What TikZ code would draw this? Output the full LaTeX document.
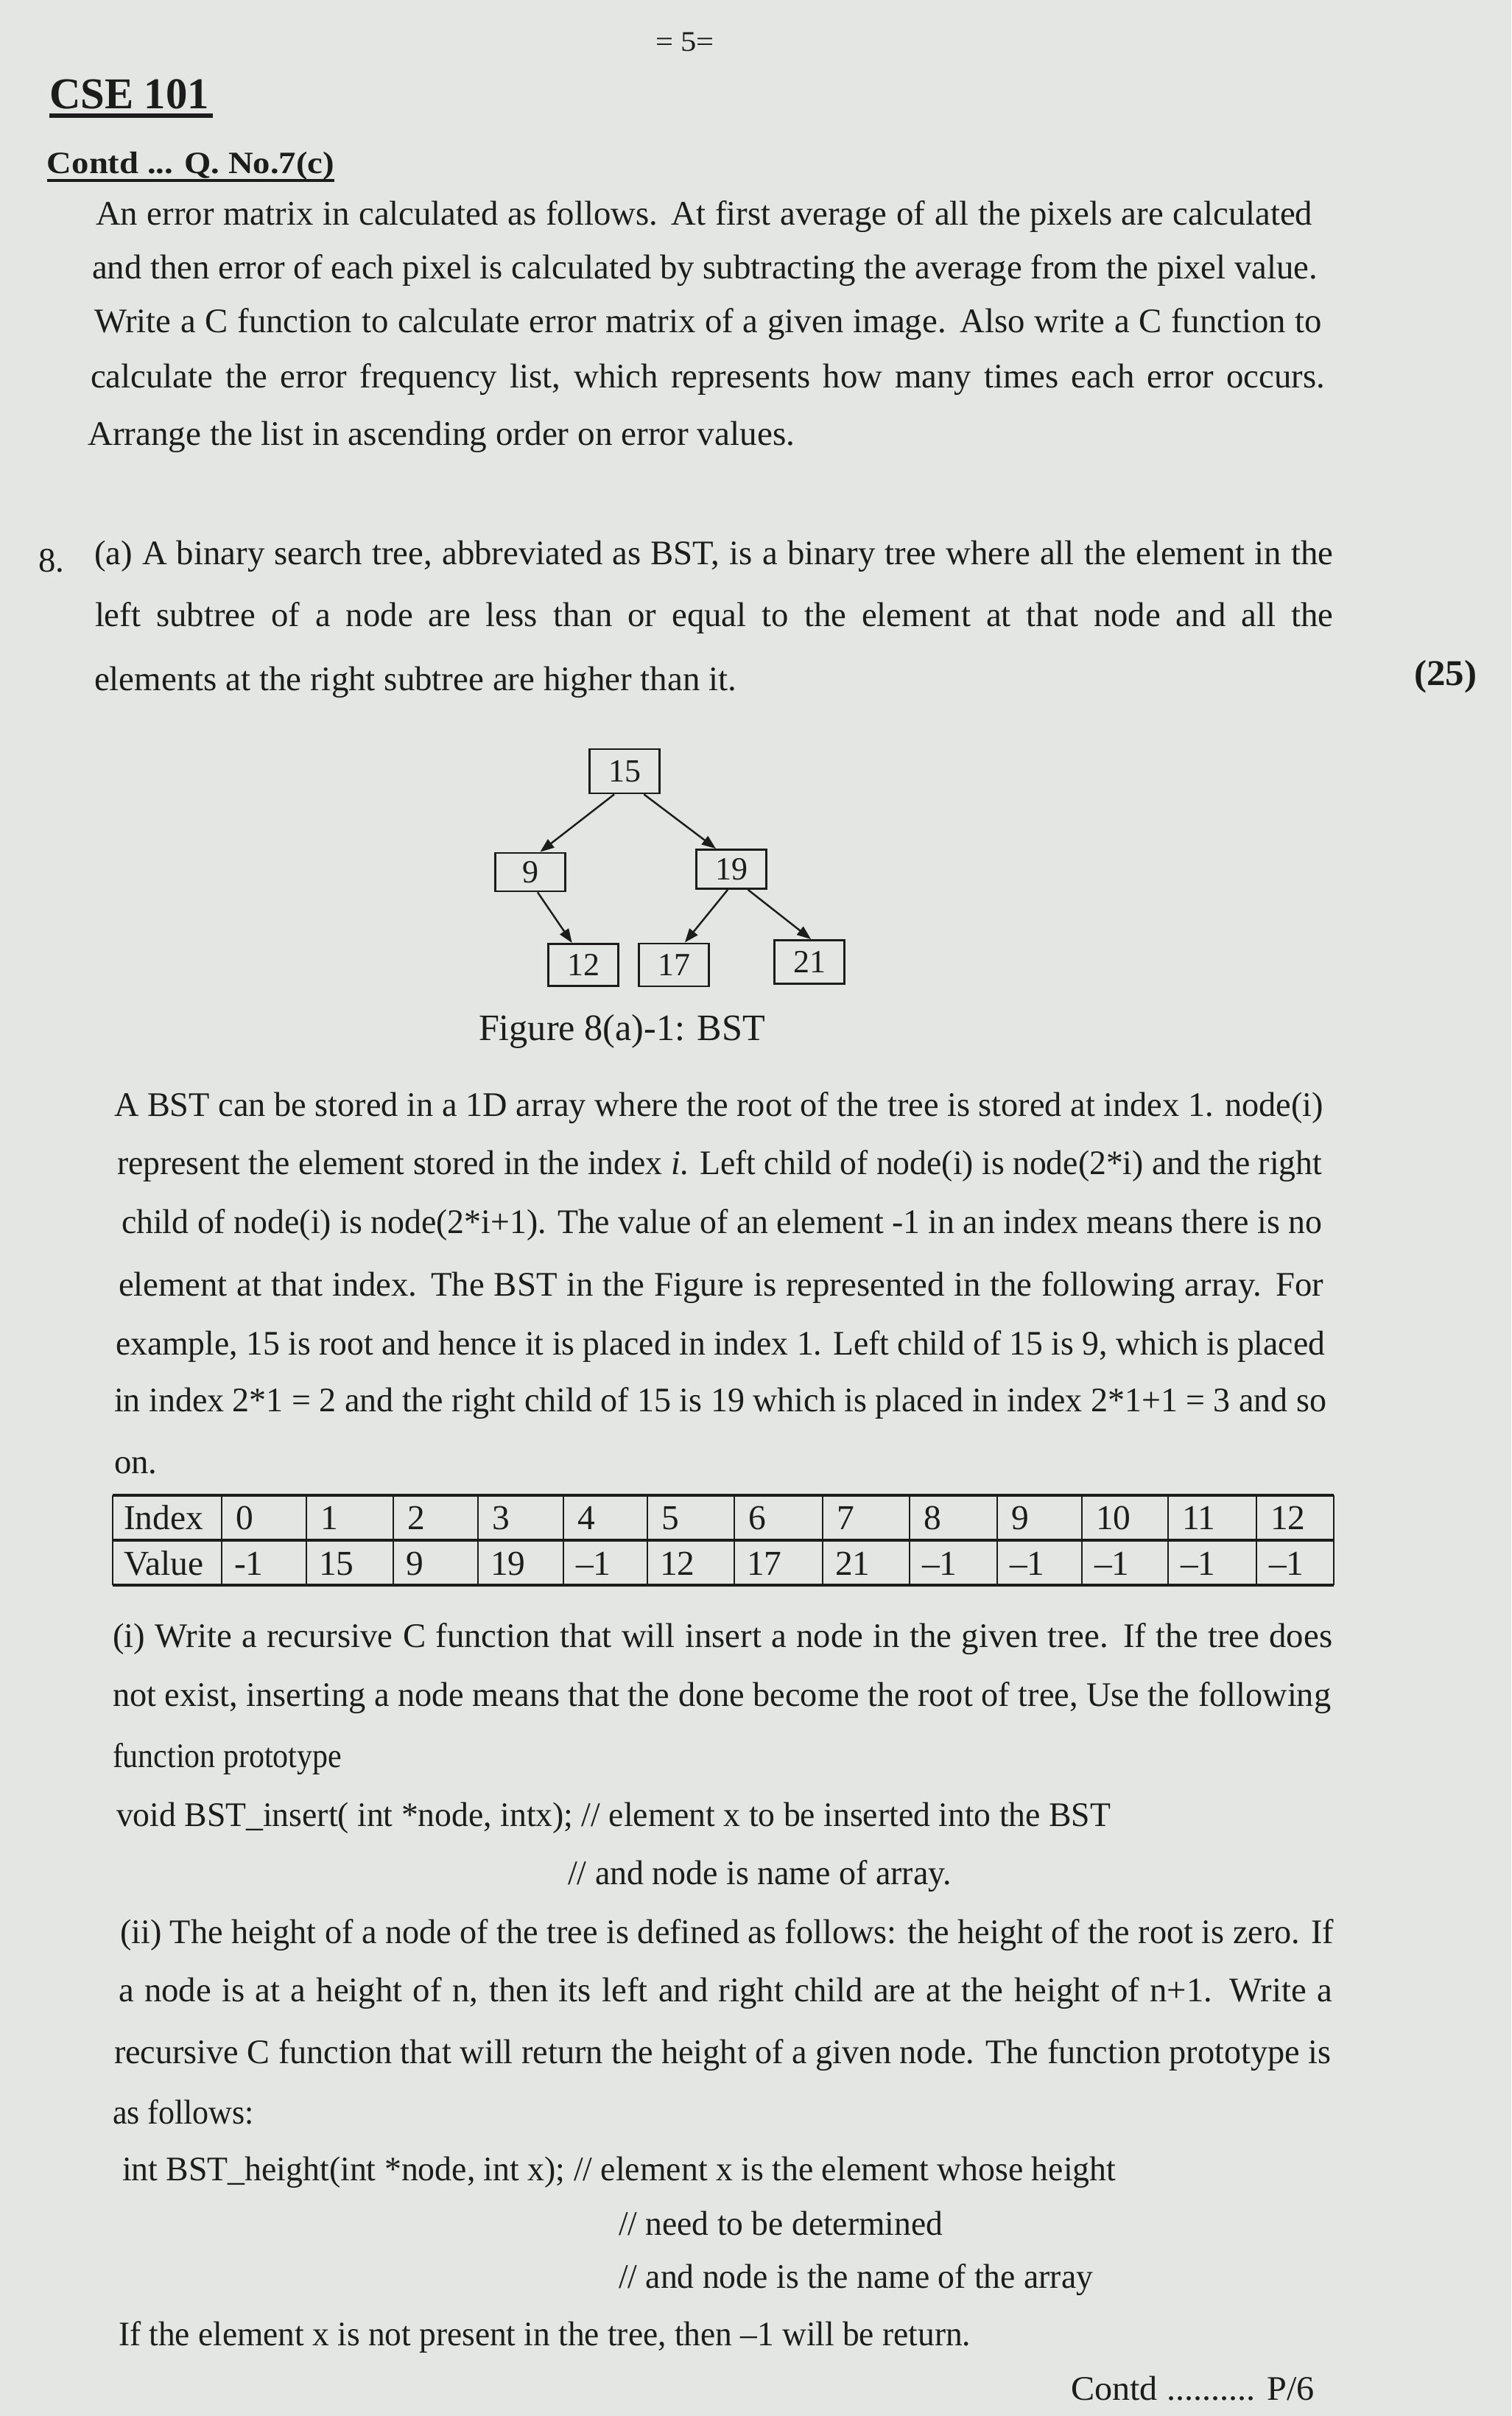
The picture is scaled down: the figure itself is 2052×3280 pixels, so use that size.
\documentclass[tikz,border=0pt]{standalone}
\usepackage{fontspec}
\setmainfont{Liberation Serif}
\usepackage{graphicx}
\usetikzlibrary{arrows.meta}
\definecolor{paper}{RGB}{228,230,228}
\definecolor{ink}{RGB}{28,28,28}
\newsavebox\linebox
\newcommand\fitw[2]{\sbox\linebox{#2}\ifdim\wd\linebox<\dimexpr 0.1mm*#1\relax
  \makebox[\dimexpr 0.1mm*#1\relax][s]{#2}\else
  \resizebox{\dimexpr 0.1mm*#1\relax}{\height}{\usebox\linebox}\fi}
\begin{document}
\begin{tikzpicture}[x=0.1mm,y=-0.1mm,
  txt/.style={inner sep=0pt, outer sep=0pt, anchor=base west, text=ink, font=\fontsize{13.3}{16}\selectfont},
  box/.style={draw=ink, line width=0.8pt, minimum width=9.5mm, minimum height=5.6mm, inner sep=0pt, text=ink, font=\fontsize{12.5}{14}\selectfont},
  arr/.style={draw=ink, line width=0.7pt, -{Triangle[length=1.9mm,width=1.4mm]}},
  tbl/.style={txt, font=\fontsize{13.5}{16}\selectfont},
  hl/.style={draw=ink, line width=1.4pt},
  vl/.style={draw=ink, line width=0.6pt},
  ul/.style={draw=ink, line width=1.2pt}]
\fill[paper] (0,0) rectangle (2052,3280);
\useasboundingbox (0,0) rectangle (2052,3280);

% header
\node[txt, font=\fontsize{11}{13}\selectfont] (pg) at (890,70) {\resizebox{8mm}{\height}{= 5=}};
\node[txt, font=\fontsize{17}{20}\selectfont\bfseries] (cse) at (67,148) {\resizebox{21.7mm}{\height}{CSE 101}};
\draw[ul, line width=1.6pt] (cse.base west) ++(0,9) coordinate (u1a) -- ++(222,0) coordinate (u1b);
\node[txt, font=\fontsize{12}{14}\selectfont\bfseries] (contq) at (64,236) {\resizebox{39mm}{\height}{Contd ... Q. No.7(c)}};
\draw[ul] (contq.base west) ++(0,9) coordinate (u2a) -- ++(390,0) coordinate (u2b);

% paragraph 7(c)
\node[txt] (p1) at (130,306) {\fitw{1652}{An error matrix in calculated as follows. At first average of all the pixels are calculated}};
\node[txt] (p2) at (125,379) {\fitw{1664}{and then error of each pixel is calculated by subtracting the average from the pixel value.}};
\node[txt] (p3) at (128,452) {\fitw{1667}{Write a C function to calculate error matrix of a given image. Also write a C function to}};
\node[txt] (p4) at (123,527) {\fitw{1676}{calculate the error frequency list, which represents how many times each error occurs.}};
\node[txt] (p5) at (119,605) {\resizebox{96mm}{\height}{Arrange the list in ascending order on error values.}};

% question 8
\node[txt] (q8) at (52,777) {8.};
\node[txt] (a1) at (128,767) {\fitw{1682}{(a) A binary search tree, abbreviated as BST, is a binary tree where all the element in the}};
\node[txt] (a2) at (129,850) {\fitw{1681}{left subtree of a node are less than or equal to the element at that node and all the}};
\node[txt] (a3) at (128,937) {\resizebox{87.2mm}{\height}{elements at the right subtree are higher than it.}};
\node[txt, font=\fontsize{14}{16}\selectfont\bfseries] (marks) at (1920,930) {\resizebox{8.5mm}{\height}{(25)}};

% tree
\node[box, minimum height=6mm] (n15) at (848,1047) {15};
\node[box, minimum height=5.2mm] (n9) at (720,1184) {9};
\node[box, minimum height=5.3mm] (n19) at (993,1180) {19};
\node[box, minimum height=5.7mm] (n12) at (792,1310) {12};
\node[box, minimum height=5.8mm] (n17) at (915,1310) {17};
\node[box, minimum height=5.9mm] (n21) at (1099,1306) {21};
\draw[arr] (n15.246) -- (n9.64);
\draw[arr] (n15.310) -- (n19.127);
\draw[arr] (n9.290) -- (n12.117);
\draw[arr] (n19.260) -- (n17.64);
\draw[arr] (n19.309) -- (n21.86);
\node[txt, font=\fontsize{14.4}{17}\selectfont] (cap) at (650,1412) {\resizebox{38.9mm}{\height}{Figure 8(a)-1: BST}};

% BST paragraph
\node[txt] (b1) at (155,1515) {\fitw{1642}{A BST can be stored in a 1D array where the root of the tree is stored at index 1. node(i)}};
\node[txt] (b2) at (159,1594) {\fitw{1636}{represent the element stored in the index \textit{i}. Left child of node(i) is node(2*i) and the right}};
\node[txt] (b3) at (165,1674) {\fitw{1630}{child of node(i) is node(2*i+1). The value of an element -1 in an index means there is no}};
\node[txt] (b4) at (161,1759) {\fitw{1636}{element at that index. The BST in the Figure is represented in the following array. For}};
\node[txt] (b5) at (157,1839) {\fitw{1642}{example, 15 is root and hence it is placed in index 1. Left child of 15 is 9, which is placed}};
\node[txt] (b6) at (155,1916) {\fitw{1646}{in index 2*1 = 2 and the right child of 15 is 19 which is placed in index 2*1+1 = 3 and so}};
\node[txt] (b7) at (155,2000) {on.};

% table
\foreach \yy in {2030,2091,2152} \draw[hl] (153,\yy) -- (1811,\yy);
\foreach \xx in {153,301,416,534,649,765,879,997,1117,1235,1354,1469,1586,1706,1811} \draw[vl] (\xx,2030) -- (\xx,2152);
\node[tbl] (hidx) at (168,2076) {Index};
\node[tbl] (hval) at (168,2138) {Value};
\foreach \i/\xl/\v in {0/301/{-1},1/416/15,2/534/9,3/649/19,4/765/{–1},5/879/12,6/997/17,7/1117/21,8/1235/{–1},9/1354/{–1},10/1469/{–1},11/1586/{–1},12/1706/{–1}} {
  \node[tbl] (idx\i) at (\xl+19,2076) {\i};
  \node[tbl] (val\i) at (\xl+17,2138) {\v};
}

% (i)
\node[txt] (i1) at (153,2236) {\fitw{1656}{(i) Write a recursive C function that will insert a node in the given tree. If the tree does}};
\node[txt] (i2) at (153,2316) {\fitw{1654}{not exist, inserting a node means that the done become the root of tree, Use the following}};
\node[txt] (i3) at (153,2399) {\resizebox{31.1mm}{\height}{function prototype}};
\node[txt] (i4) at (158,2479) {\resizebox{135mm}{\height}{void BST\_insert( int *node, intx); // element x to be inserted into the BST}};
\node[txt] (i5) at (771,2558) {\resizebox{52.1mm}{\height}{// and node is name of array.}};

% (ii)
\node[txt] (j1) at (163,2638) {\fitw{1648}{(ii) The height of a node of the tree is defined as follows: the height of the root is zero. If}};
\node[txt] (j2) at (161,2717) {\fitw{1648}{a node is at a height of n, then its left and right child are at the height of n+1. Write a}};
\node[txt] (j3) at (155,2801) {\fitw{1652}{recursive C function that will return the height of a given node. The function prototype is}};
\node[txt] (j4) at (153,2883) {\resizebox{19.2mm}{\height}{as follows:}};
\node[txt] (j5) at (166,2960) {\resizebox{134.9mm}{\height}{int BST\_height(int *node, int x); // element x is the element whose height}};
\node[txt] (j6) at (840,3034) {\resizebox{44mm}{\height}{// need to be determined}};
\node[txt] (j7) at (840,3106) {\resizebox{64.4mm}{\height}{// and node is the name of the array}};
\node[txt] (j8) at (161,3184) {\resizebox{115.7mm}{\height}{If the element x is not present in the tree, then –1 will be return.}};

% footer
\node[txt] (foot) at (1454,3258) {\resizebox{33.1mm}{\height}{Contd .......... P/6}};
\end{tikzpicture}
\end{document}
